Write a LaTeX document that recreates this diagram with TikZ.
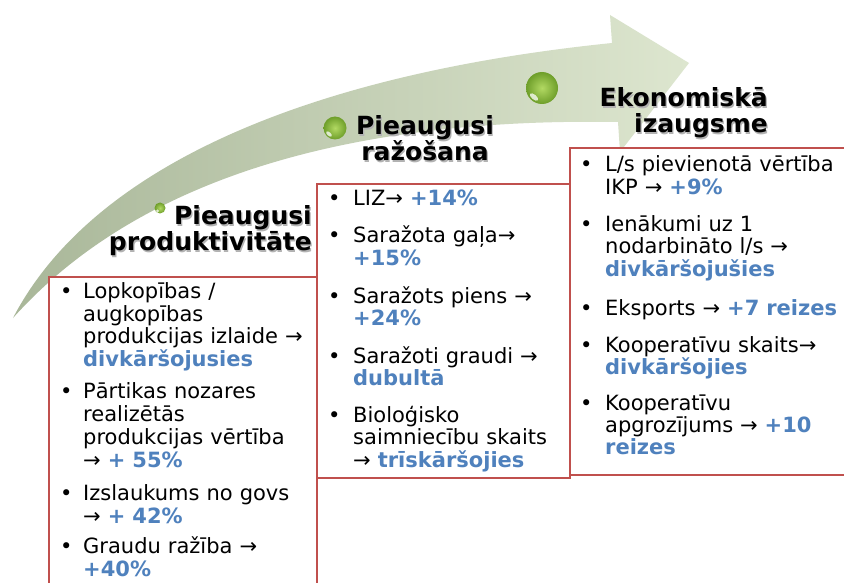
\documentclass[tikz,border=0pt]{standalone}
\usepackage{fontspec}
\setmainfont{DejaVu Sans}
\definecolor{boxred}{HTML}{C0504D}
\definecolor{hlblue}{HTML}{4F81BD}
\definecolor{arrowA}{HTML}{A9B799}
\definecolor{arrowB}{HTML}{CAD5BA}
\definecolor{arrowC}{HTML}{DDE6CF}
\definecolor{ballin}{HTML}{B2D963}
\definecolor{ballout}{HTML}{6E9E2A}
\newcommand{\hlb}[1]{\textcolor{hlblue}{\textbf{#1}}}
\tikzset{
  titletext/.style={font=\fontsize{25}{26}\selectfont\bfseries, inner sep=0pt, text width=240pt},
  titleshadow/.style={titletext, text=black!30},
  itemtext/.style={font=\fontsize{21}{#1}\selectfont, inner sep=0pt, text width=300pt, align=left, anchor=base west},
  itemtext/.default=23,
  bulletmark/.style={font=\fontsize{21}{23}\selectfont, inner sep=0pt, anchor=base west},
  infobox/.style={draw=boxred, line width=2pt, fill=white},
  glassball/.style={inner color=ballin, outer color=ballout},
  glint/.style={fill=white, opacity=0.75},
}
\begin{document}
\begin{tikzpicture}[x=1pt,y=-1pt]
\useasboundingbox (0,0) rectangle (844,583);
\clip (0,0) rectangle (844,583);
\fill[white] (0,0) rectangle (844,583);
% curved arrow
\shade[left color=arrowA, middle color=arrowB, right color=arrowC]
  (13,318) .. controls (90,170) and (300,75) .. (612,43)
  -- (610,15) -- (689,63) -- (620,152) -- (618,122)
  .. controls (380,118) and (150,165) .. (13,318) -- cycle;
% balls
\shade[glassball] (160,208) circle[radius=5.5];
\fill[glint] (157.5,211) circle[radius=1.6];
\shade[glassball] (335,128) circle[radius=11.5];
\fill[glint, rotate around={-40:(329,134)}] (329,134) ellipse[x radius=3.5, y radius=1.8];
\shade[glassball] (542,88) circle[radius=16];
\fill[glint, rotate around={-40:(534,97)}] (534,97) ellipse[x radius=5, y radius=2.4];
% titles
\node[titleshadow, align=right, anchor=base east] (t1s) at (313.2,226.2) {Pieaugusi\\produktivitāte};
\node[titletext, align=right, anchor=base east] (t1) at (312,225) {Pieaugusi\\produktivitāte};
\node[titleshadow, align=center, anchor=base] (t2s) at (426.2,136.2) {Pieaugusi\\ražošana};
\node[titletext, align=center, anchor=base] (t2) at (425,135) {Pieaugusi\\ražošana};
\node[titleshadow, align=right, anchor=base east] (t3s) at (769.2,108.2) {Ekonomiskā\\izaugsme};
\node[titletext, align=right, anchor=base east] (t3) at (768,107) {Ekonomiskā\\izaugsme};
% boxes
\draw[infobox] (49,277) rectangle (317,600);
\draw[infobox] (317,184) rectangle (570,478);
\draw[infobox] (570,148) rectangle (860,475);
% box 1
\node[bulletmark] (b1a) at (60,298) {•};
\node[itemtext] (i1a) at (83,298) {Lopkopības /\\augkopības\\produkcijas izlaide →\\\hlb{divkāršojusies}};
\node[bulletmark] (b1b) at (60,398) {•};
\node[itemtext] (i1b) at (83,398) {Pārtikas nozares\\realizētās\\produkcijas vērtība\\→ \hlb{+ 55\%}};
\node[bulletmark] (b1c) at (60,500) {•};
\node[itemtext] (i1c) at (83,500) {Izslaukums no govs\\→ \hlb{+ 42\%}};
\node[bulletmark] (b1d) at (60,553) {•};
\node[itemtext] (i1d) at (83,553) {Graudu ražība →\\\hlb{+40\%}};
% box 2
\node[bulletmark] (b2a) at (328,205) {•};
\node[itemtext=22.5] (i2a) at (353,205) {LIZ→ \hlb{+14\%}};
\node[bulletmark] (b2b) at (328,243) {•};
\node[itemtext=22.5] (i2b) at (353,243) {Saražota gaļa→\\\hlb{+15\%}};
\node[bulletmark] (b2c) at (328,303) {•};
\node[itemtext=22.5] (i2c) at (353,303) {Saražots piens →\\\hlb{+24\%}};
\node[bulletmark] (b2d) at (328,363) {•};
\node[itemtext=22.5] (i2d) at (353,363) {Saražoti graudi →\\\hlb{dubultā}};
\node[bulletmark] (b2e) at (328,422) {•};
\node[itemtext=22.5] (i2e) at (353,422) {Bioloģisko\\saimniecību skaits\\→ \hlb{trīskāršojies}};
% box 3
\node[bulletmark] (b3a) at (580,172) {•};
\node[itemtext=22] (i3a) at (605,172) {L/s pievienotā vērtība\\IKP → \hlb{+9\%}};
\node[bulletmark] (b3b) at (580,232) {•};
\node[itemtext=22] (i3b) at (605,232) {Ienākumi uz 1\\nodarbināto l/s →\\\hlb{divkāršojušies}};
\node[bulletmark] (b3c) at (580,315) {•};
\node[itemtext=22] (i3c) at (605,315) {Eksports → \hlb{+7 reizes}};
\node[bulletmark] (b3d) at (580,352) {•};
\node[itemtext=22] (i3d) at (605,352) {Kooperatīvu skaits→\\\hlb{divkāršojies}};
\node[bulletmark] (b3e) at (580,410) {•};
\node[itemtext=22] (i3e) at (605,410) {Kooperatīvu\\apgrozījums → \hlb{+10}\\\hlb{reizes}};
\end{tikzpicture}
\end{document}
